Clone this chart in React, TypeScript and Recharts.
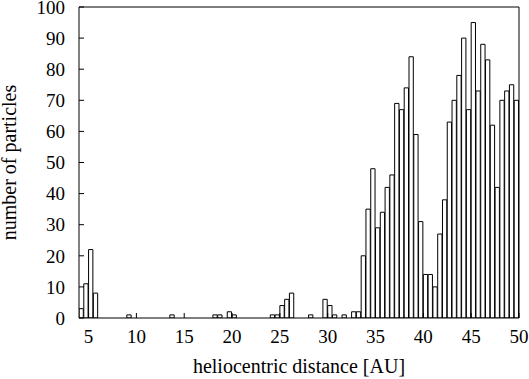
import React from 'react'
import { BarChart, Bar, XAxis, YAxis, Label } from 'recharts'

// left edge of each 0.5 AU bin
const binStarts = [
  4, 4.5, 5, 5.5, 6, 6.5, 7, 7.5, 8, 8.5, 9, 9.5, 10, 10.5, 11, 11.5,
  12, 12.5, 13, 13.5, 14, 14.5, 15, 15.5, 16, 16.5, 17, 17.5, 18, 18.5, 19, 19.5,
  20, 20.5, 21, 21.5, 22, 22.5, 23, 23.5, 24, 24.5, 25, 25.5, 26, 26.5, 27, 27.5,
  28, 28.5, 29, 29.5, 30, 30.5, 31, 31.5, 32, 32.5, 33, 33.5, 34, 34.5, 35, 35.5,
  36, 36.5, 37, 37.5, 38, 38.5, 39, 39.5, 40, 40.5, 41, 41.5, 42, 42.5, 43, 43.5,
  44, 44.5, 45, 45.5, 46, 46.5, 47, 47.5, 48, 48.5, 49, 49.5,
]

// particle counts per bin
const counts = [
  3, 11, 22, 8, 0, 0, 0, 0, 0, 0, 1, 0, 0, 0, 0, 0,
  0, 0, 0, 1, 0, 0, 0, 0, 0, 0, 0, 0, 1, 1, 0, 2,
  1, 0, 0, 0, 0, 0, 0, 0, 1, 1, 4, 6, 8, 0, 0, 0,
  1, 0, 0, 6, 4, 1, 0, 1, 0, 2, 2, 20, 35, 48, 29, 34,
  42, 46, 69, 67, 74, 84, 59, 31, 14, 14, 10, 27, 38, 63, 70, 78,
  90, 67, 95, 73, 88, 83, 62, 42, 70, 73, 75, 70,
]

const binWidth = 0.5
const xDomain: [number, number] = [4, 50]
const xTicks = [5, 10, 15, 20, 25, 30, 35, 40, 45, 50]
const yTicks = [0, 10, 20, 30, 40, 50, 60, 70, 80, 90, 100]

const data = binStarts.map((s, i) => ({ center: s + binWidth / 2, count: counts[i] }))

const W = 529
const H = 379
const LEFT = 79
const RIGHT = 10
const TOP = 7
const BOTTOM = 61
const plotW = W - LEFT - RIGHT
const barPx = (plotW / (xDomain[1] - xDomain[0])) * binWidth

const font = '"Liberation Serif", "Times New Roman", serif'
const tickStyle = { fontFamily: font, fontSize: 19, fill: '#000' }

export default function App() {
  return (
    <div style={{ position: 'absolute', left: 0, top: 0, background: '#fff' }}>
      <BarChart
        width={W}
        height={H}
        data={data}
        margin={{ top: 0, right: 0, bottom: 0, left: 0 }}
        barGap={0}
        barCategoryGap={0}
      >
        <XAxis
          xAxisId="bottom"
          type="number"
          dataKey="center"
          domain={xDomain}
          ticks={xTicks}
          allowDataOverflow
          height={BOTTOM}
          tickSize={-5}
          tickMargin={17}
          tick={tickStyle}
          stroke="#000"
          interval={0}
        >
          <Label
            value="heliocentric distance [AU]"
            position="insideBottom"
            offset={6}
            style={{ fontFamily: font, fontSize: 20, fill: '#000' }}
          />
        </XAxis>
        <XAxis
          xAxisId="top"
          orientation="top"
          type="number"
          domain={xDomain}
          ticks={xTicks}
          allowDataOverflow
          height={TOP}
          tickSize={-5}
          tick={false}
          stroke="#000"
          interval={0}
        />
        <YAxis
          yAxisId="left"
          type="number"
          domain={[0, 100]}
          ticks={yTicks}
          allowDataOverflow
          width={LEFT}
          tickSize={-5}
          tickMargin={19}
          tick={tickStyle}
          stroke="#000"
          interval={0}
        >
          <Label
            value="number of particles"
            angle={-90}
            position="insideLeft"
            offset={9}
            style={{ fontFamily: font, fontSize: 20, fill: '#000', textAnchor: 'middle' }}
          />
        </YAxis>
        <YAxis
          yAxisId="right"
          orientation="right"
          type="number"
          domain={[0, 100]}
          ticks={yTicks}
          allowDataOverflow
          width={RIGHT}
          tickSize={-5}
          tick={false}
          stroke="#000"
          interval={0}
        />
        <Bar
          xAxisId="bottom"
          yAxisId="left"
          dataKey="count"
          barSize={barPx}
          fill="#fff"
          stroke="#000"
          strokeWidth={1}
          isAnimationActive={false}
        />
      </BarChart>
    </div>
  )
}
